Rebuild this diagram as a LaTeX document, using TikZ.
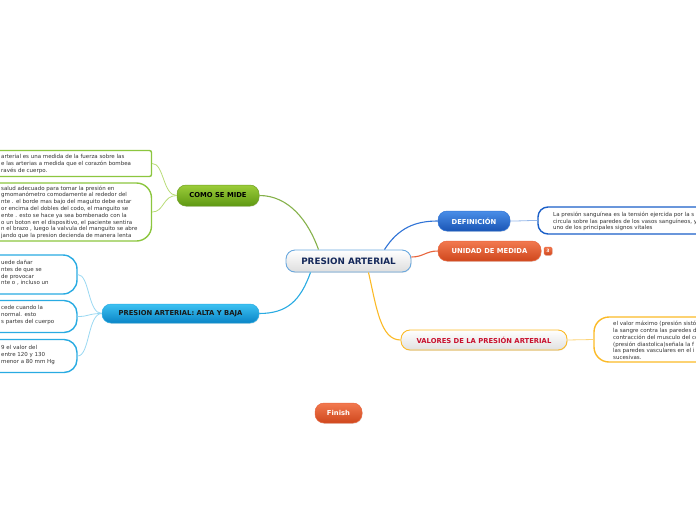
\documentclass[tikz,border=0pt]{standalone}
\usepackage{fontspec}
\setmainfont{DejaVu Sans}
\usetikzlibrary{shadows,calc}
\definecolor{cgreen}{HTML}{8CC63F}
\definecolor{cgreenl}{HTML}{B9DC78}
\definecolor{gtop}{HTML}{9CCD3A}
\definecolor{gbot}{HTML}{5E9812}
\definecolor{gline}{HTML}{6E9F22}
\definecolor{lblue}{HTML}{29ABE2}
\definecolor{lbluel}{HTML}{9AD8F2}
\definecolor{btop}{HTML}{3DC2F2}
\definecolor{bbot}{HTML}{0A84C6}
\definecolor{dblue}{HTML}{2F73D6}
\definecolor{dtop}{HTML}{4A8EE8}
\definecolor{dbot}{HTML}{1A55B5}
\definecolor{dboxl}{HTML}{1A5FC8}
\definecolor{orange}{HTML}{E8643C}
\definecolor{otop}{HTML}{F2794F}
\definecolor{obot}{HTML}{CF471D}
\definecolor{yel}{HTML}{FBBA27}
\definecolor{yell}{HTML}{FCD478}
\definecolor{crim}{HTML}{C8102E}
\definecolor{navy}{HTML}{14285A}
\definecolor{cborder}{HTML}{6AA8DE}
\definecolor{txt}{HTML}{333333}
\begin{document}
\begin{tikzpicture}[x=1pt,y=-1pt,
  topic/.style={rounded corners=9pt, inner sep=0pt, font=\bfseries\fontsize{6.8}{7}\selectfont,
    drop shadow={opacity=0.2, shadow xshift=0.5pt, shadow yshift=-0.8pt}},
  gtopic/.style={topic, top color=gtop, bottom color=gbot, draw=gline, line width=0.5pt, text=black},
  btopic/.style={topic, top color=btop, bottom color=bbot, draw=lblue, line width=0.5pt, text=black!90},
  dtopic/.style={topic, top color=dtop, bottom color=dbot, draw=dblue, line width=0.5pt, text=white},
  otopic/.style={topic, top color=otop, bottom color=obot, draw=orange, line width=0.5pt, text=white},
  ytopic/.style={topic, top color=white, bottom color=black!12, draw=yel, line width=0.9pt, text=crim},
  tbox/.style={line width=1.4pt, fill=white, inner sep=0pt},
  small/.style={font=\fontsize{5.5}{6.8}\selectfont, align=left, anchor=north west, inner sep=0pt, text=txt},
  conn/.style={line width=1.1pt},
  sconn/.style={line width=0.8pt}
]
\useasboundingbox (0,0) rectangle (696,520);
\clip (0,0) rectangle (696,520);

% text boxes
\node[tbox, draw=cgreen, rounded corners=2pt, minimum width=171pt, minimum height=26pt] (b1) at (66,163.5) {};
\node[tbox, draw=cgreen, rounded corners=15pt, minimum width=171pt, minimum height=58pt] (b2) at (66,212) {};
\node[tbox, draw=lblue, rounded corners=14pt, minimum width=97pt, minimum height=39pt] (ba) at (28.5,274.5) {};
\node[tbox, draw=lblue, rounded corners=13pt, minimum width=97pt, minimum height=32pt] (bb) at (28.5,316.5) {};
\node[tbox, draw=lblue, rounded corners=13pt, minimum width=97pt, minimum height=33pt] (bc) at (28.5,356) {};
\node[tbox, draw=dboxl, rounded corners=10pt, minimum width=180pt, minimum height=27pt] (bd) at (628,220.5) {};
\node[tbox, draw=yel, rounded corners=15pt, minimum width=130pt, minimum height=45pt] (bv) at (659,339.5) {};

\node[small] (t1) at (1,154.4) {arterial es una medida de la fuerza sobre las\\e las arterias a medida que el corazón bombea\\ravés de cuerpo.};
\node[small] (t2) at (1,185.4) {salud adecuado para tomar la presión en\\gmomanómetro comodamente al rededor del\\nte . el borde mas bajo del maguito debe estar\\or encima del dobles del codo, el manguito se\\ente . esto se hace ya sea bombenado con la\\o un boton en el dispositivo, el paciente sentira\\n el brazo , luego la valvula del manguito se abre\\jando que la presion decienda de manera lenta};
\node[small] (ta) at (1,260.1) {uede dañar\\ntes de que se\\de provocar\\nte o , incluso un};
\node[small] (tb) at (1,305.6) {cede cuando la\\normal. esto\\s partes del cuerpo};
\node[small] (tc) at (1,345.1) {9 el valor del\\ entre 120 y 130\\menor a 80 mm Hg};
\node[small] (td) at (553,211.6) {La presión sanguínea es la tensión ejercida por la s\\circula sobre las paredes de los vasos sanguíneos, y\\uno de los principales signos vitales};
\node[small] (tv) at (613,321.1) {el valor máximo (presión sistó\\la sangre contra las paredes d\\contracción del musculo del co\\(presión diastolica)señala la f\\las paredes vasculares en el i\\sucesivas.};

% topic nodes
\node[topic, top color=white, bottom color=black!13, draw=cborder, line width=0.9pt, text=navy,
  font=\bfseries\fontsize{8.8}{9}\selectfont, minimum width=125pt, minimum height=22pt] (C) at (348.5,261) {PRESION ARTERIAL};
\node[gtopic, minimum width=82pt, minimum height=21pt] (como) at (218,195.5) {COMO SE MIDE};
\node[btopic, minimum width=157pt, minimum height=19pt] (alta) at (180.5,313.5) {PRESION ARTERIAL: ALTA Y BAJA};
\node[dtopic, minimum width=72pt, minimum height=20pt] (def) at (474,221) {DEFINICIÓN};
\node[otopic, minimum width=103pt, minimum height=20pt] (uni) at (489.5,251) {UNIDAD DE MEDIDA};
\node[otopic, rounded corners=1.5pt, minimum width=8pt, minimum height=8pt, font=\bfseries\fontsize{4.5}{5}\selectfont] (badge) at (548,251) {3};
\node[ytopic, minimum width=166pt, minimum height=20pt] (val) at (484,340) {VALORES DE LA PRESIÓN ARTERIAL};
\node[otopic, minimum width=47pt, minimum height=20pt] (fin) at (338.5,413) {Finish};

% main connectors
\draw[conn, draw=cgreen!85!black!90] (como.east) .. controls +(30,0) and +(-10,-28) .. ([xshift=-30pt]C.north);
\draw[conn, draw=dblue] ([xshift=36pt]C.north) .. controls +(14,-22) and +(-22,0) .. (def.west);
\draw[conn, draw=orange] ([yshift=4pt]C.east) .. controls +(12,0) and +(-12,0) .. (uni.west);
\draw[conn, draw=yel] ([xshift=20pt]C.south) .. controls +(8,35) and +(-20,0) .. (val.west);
\draw[conn, draw=lblue] ([xshift=-38pt]C.south) .. controls +(-10,28) and +(28,0) .. (alta.east);

% child connectors
\draw[sconn, draw=cgreenl] (como.west) .. controls +(-14,0) and +(12,0) .. (b1.east);
\draw[sconn, draw=cgreenl] (como.west) .. controls +(-14,0) and +(12,0) .. (b2.east);
\draw[sconn, draw=lbluel] (alta.west) .. controls +(-14,0) and +(12,0) .. (ba.east);
\draw[sconn, draw=lbluel] (alta.west) .. controls +(-14,0) and +(12,0) .. (bb.east);
\draw[sconn, draw=lbluel] (alta.west) .. controls +(-14,0) and +(12,0) .. (bc.east);
\draw[sconn, draw=dblue!50] (def.east) .. controls +(12,0) and +(-12,0) .. (bd.west);
\draw[sconn, draw=yell] (val.east) .. controls +(12,0) and +(-12,0) .. (bv.west);
\end{tikzpicture}
\end{document}
